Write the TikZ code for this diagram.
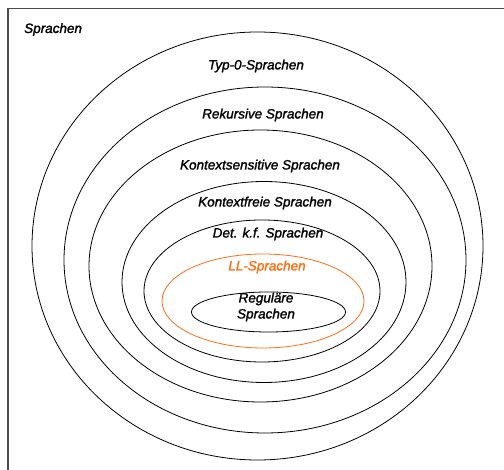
\documentclass[tikz,border=0pt]{standalone}
\usepackage{fontspec}
\setmainfont{Liberation Sans}
\newfontface\langfont{Liberation Sans Italic}[FakeBold=1.6]
\usepackage{tikz}

\definecolor{llorange}{RGB}{255,110,20}

\begin{document}
\begin{tikzpicture}[x=1pt,y=-1pt,
  lang/.style={font=\langfont\fontsize{13.5}{16}\selectfont, inner sep=0pt},
  ring/.style={draw=black, line width=0.8pt}]
\useasboundingbox (0,0) rectangle (504,470);
\draw[black!70, line width=1.2pt] (504,8.5) -- (8,8.5) -- (8,470);

% Chomsky-Hierarchie, von aussen nach innen
\draw[ring] (257.5,246) ellipse (225.5 and 214);
\draw[ring] (265,260) ellipse (201 and 173);
\draw[ring] (260.5,266) ellipse (171.5 and 136);
\draw[ring] (264,282) ellipse (142 and 100.5);
\draw[ring] (262,291) ellipse (118 and 71);
\draw[ring, draw=llorange] (263,301) ellipse (101 and 47);
\draw[ring] (268.5,312) ellipse (77 and 20);

\node[lang, anchor=base west] (sprachen) at (24,33) {Sprachen};
\node[lang] (typnull) at (256,66) {Typ-0-Sprachen};
\node[lang] (rekursiv) at (263,115) {Rekursive Sprachen};
\node[lang] (kontextsens) at (260,166) {Kontextsensitive Sprachen};
\node[lang] (kontextfrei) at (265,203) {Kontextfreie Sprachen};
\node[lang] (detkf) at (268,234) {Det. k.f. Sprachen};
\node[lang, text=llorange] (ll) at (267,267) {LL-Sprachen};
\node[lang, align=center] (regulaer) at (266,307) {Reguläre\\Sprachen};
\end{tikzpicture}
\end{document}
